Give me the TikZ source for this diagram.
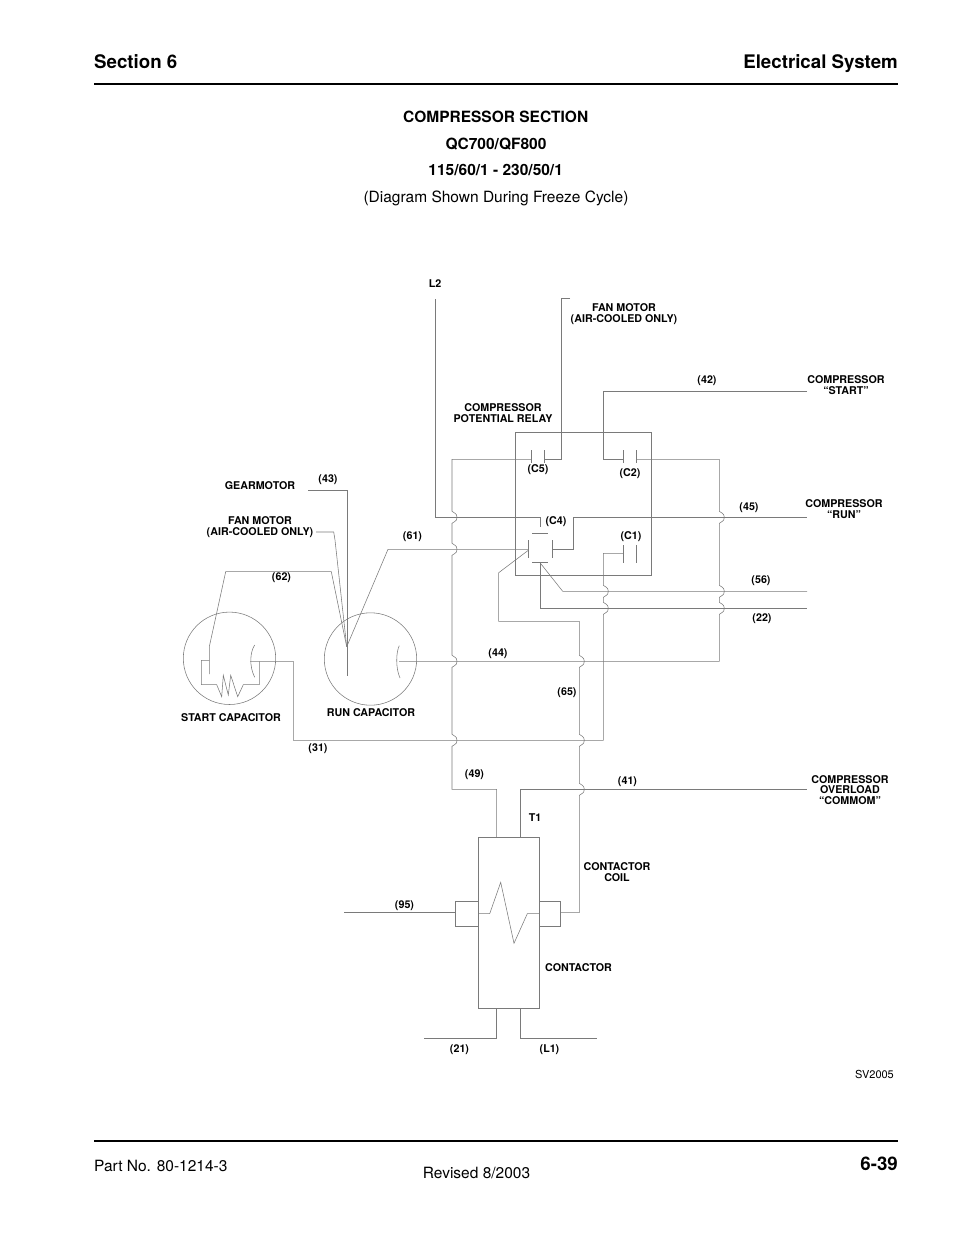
\documentclass[tikz,border=0pt]{standalone}
\usepackage{fontspec}
\setmainfont{TeX Gyre Heros}
\usetikzlibrary{calc}
\tikzstyle{wire}=[draw=black!52, line width=0.55pt]
\tikzstyle{part}=[draw=black!52, line width=0.55pt, inner sep=0pt, outer sep=0pt]
\tikzstyle{lbl}=[font=\fontsize{10.7}{10.8}\selectfont\bfseries, align=center, inner sep=0pt]
\tikzstyle{head}=[font=\fontsize{18.7}{20}\selectfont\bfseries, inner sep=0pt]
\tikzstyle{body}=[font=\fontsize{15.5}{17}\selectfont, inner sep=0pt]
\tikzstyle{rule}=[line width=2pt, black]
\newcommand{\wirehop}[2]{-- (#1,#2-6) .. controls (#1+1,#2-4) and (#1+5,#2-5) .. (#1+5,#2) .. controls (#1+5,#2+5) and (#1+1,#2+4) .. (#1,#2+6)}
\begin{document}
\begin{tikzpicture}[x=1pt,y=-1pt]
  \useasboundingbox (0,0) rectangle (954,1235);
  \node [head, anchor=base west] (sec) at (94,68) {Section 6};
  \node [head, anchor=base east] (sys) at (898,68) {Electrical System};
  \coordinate (ra) at (94,84);
  \coordinate (rb) at (898,84);
  \draw [rule] (ra) -- (rb);
  \node [body] (t1) at (495.7,117) {\bfseries COMPRESSOR SECTION};
  \node [body] (t2) at (496,144) {\bfseries QC700/QF800};
  \node [body] (t3) at (495.7,170) {\bfseries 115/60/1 - 230/50/1};
  \node [body] (t4) at (496,198.5) {(Diagram Shown During Freeze Cycle)};

  \node [part, draw, minimum width=136pt, minimum height=142.3pt] (rly) at (583.7,503.9) {};
  \node [part, circle, minimum size=92.4pt] (sc) at (229.5,658.3) {};
  \node [part, circle, minimum size=92.4pt] (rc) at (370.5,659) {};
  \node [part, minimum width=61.3pt, minimum height=171pt] (ct) at (508.65,922.8) {};
  \node [part, minimum width=22.7pt, minimum height=25pt] (cl) at (466.65,913.8) {};
  \node [part, minimum width=21pt, minimum height=25pt] (cr) at (549.8,913.8) {};

  \coordinate (l2) at (435.3,299);
  \coordinate (l2b) at (435.3,517.3);
  \coordinate (l2c) at (540,517.3);
  \coordinate (l2d) at (540,527.3);
  \draw [wire] (l2) -- (l2b) -- (l2c) -- (l2d);

  \coordinate (c5l) at (531.3,459.3);
  \coordinate (c5r) at (544.3,459.3);
  \draw [wire] (531.3,450) -- (531.3,462.7);
  \draw [wire] (544.3,450) -- (544.3,462.7);
  \draw [wire] (570,298.3) -- (561.3,298.3) -- (561.3,459.3) -- (c5r);
  \draw [wire] (c5l) -- (452,459.3) \wirehop{452}{517.3} \wirehop{452}{549.3} \wirehop{452}{661.3} \wirehop{452}{740.3} -- (452,789.3) -- (496.7,789.3) -- (ct.north -| 496.7,0);

  \coordinate (c2l) at (623.3,459.3);
  \coordinate (c2r) at (636.3,459.3);
  \draw [wire] (623.3,450) -- (623.3,462.7);
  \draw [wire] (636.3,450) -- (636.3,462.7);
  \draw [wire] (807,391) -- (603.3,391) -- (603.3,459.3) -- (c2l);
  \draw [wire] (c2r) -- (719.3,459.3) \wirehop{719.3}{517.3} \wirehop{719.3}{591.3} \wirehop{719.3}{608.3} -- (719.3,661.3) -- (399,661.3);

  \coordinate (c1l) at (623.3,553.3);
  \draw [wire] (623.3,545) -- (623.3,562.7);
  \draw [wire] (636.3,545) -- (636.3,562.7);
  \draw [wire] (c1l) -- (603.3,553.3) \wirehop{603.3}{591.3} \wirehop{603.3}{608.3} -- (603.3,740.3) -- (293.3,740.3) -- (293.3,661.3) -- (250,661.3);

  \draw [wire] (532.3,533.7) -- (548.3,533.7);
  \draw [wire] (532.3,562.7) -- (548.3,562.7);
  \draw [wire] (528.7,540) -- (528.7,558.3);
  \draw [wire] (552.3,540) -- (552.3,558.3);
  \coordinate (coill) at (528.7,549.3);
  \coordinate (coilr) at (552.3,549.3);
  \coordinate (coilb) at (540,562.7);
  \draw [wire] (coilr) -- (573.3,549.3) -- (573.3,517.3) -- (807,517.3);
  \draw [wire] (346.7,646.7) -- (388,549.3) -- (coill);
  \draw [wire] (528.7,550) -- (498.7,572.7) -- (498.7,621.3) -- (579.3,621.3) \wirehop{579.3}{661.3} \wirehop{579.3}{740.3} \wirehop{579.3}{789.3} -- (579.3,912.7) -- (cr.east |- 0,912.7);
  \draw [wire] (coilb) -- (562.7,591.3) -- (807,591.3);
  \draw [wire] (coilb) -- (540,608.3) -- (807,608.3);

  \draw [wire] (308,490.3) -- (347.3,490.3) -- (347.3,676);
  \draw [wire] (316,532) -- (333.7,532) -- (335,540) -- (346.7,646.7);
  \draw [wire] (346.7,646.7) -- (331.3,571.7) -- (225.7,571.7) -- (209.3,646.7) -- (209.3,674);
  \draw [wire] (209.3,660.3) -- (201.3,660.3) -- (201.3,684.7) -- (216.7,684.7) -- (221.7,696.7) -- (223.3,675.3) -- (228.3,695) -- (230.7,675.3) -- (237.7,696.7) -- (243.3,684.7) -- (259.3,684.7) -- (259.3,661.3);
  \draw [wire] (254.7,645) .. controls (250,652) and (249,666) .. (254.7,677.3);
  \draw [wire] (399.3,645.7) .. controls (396,652) and (395.5,668) .. (400,678);

  \coordinate (tl) at (496.7,1038.3);
  \coordinate (tr) at (520.3,1038.3);
  \draw [wire] (520.3,837.3) -- (520.3,789.3) -- (807,789.3);
  \draw [wire] (496.7,1008.3) -- (tl) -- (424,1038.3);
  \draw [wire] (520.3,1008.3) -- (tr) -- (596.7,1038.3);
  \draw [wire] (344,912.7) -- (cl.west |- 0,912.7);
  \draw [wire] (ct.west |- 0,913.7) -- (489.7,913.7) -- (500.7,882.3) -- (514,943.3) -- (527.3,913.7) -- (ct.east |- 0,913.7);

  \node [lbl] (a1) at (435,284) {L2};
  \node [lbl] (a2) at (624,314) {FAN MOTOR\\(AIR-COOLED ONLY)};
  \node [lbl] (a3) at (707,381) {(42)};
  \node [lbl] (a4) at (846,385) {COMPRESSOR\\“START”};
  \node [lbl] (a5) at (503,413) {COMPRESSOR\\POTENTIAL RELAY};
  \node [lbl] (a6) at (538,470) {(C5)};
  \node [lbl] (a7) at (630,474) {(C2)};
  \node [lbl] (a8) at (749,508) {(45)};
  \node [lbl] (a9) at (844,509) {COMPRESSOR\\“RUN”};
  \node [lbl] (a10) at (556,522) {(C4)};
  \node [lbl] (a11) at (631,537) {(C1)};
  \node [lbl] (a12) at (260,486) {GEARMOTOR};
  \node [lbl] (a13) at (328,480) {(43)};
  \node [lbl] (a14) at (260,527) {FAN MOTOR\\(AIR-COOLED ONLY)};
  \node [lbl] (a15) at (412.5,537) {(61)};
  \node [lbl] (a16) at (281.5,578) {(62)};
  \node [lbl] (a17) at (761,581) {(56)};
  \node [lbl] (a18) at (762,619) {(22)};
  \node [lbl] (a19) at (498,654) {(44)};
  \node [lbl] (a20) at (567,693) {(65)};
  \node [lbl] (a21) at (231,718) {START CAPACITOR};
  \node [lbl] (a22) at (371,713) {RUN CAPACITOR};
  \node [lbl] (a23) at (318,749) {(31)};
  \node [lbl] (a24) at (474.5,775) {(49)};
  \node [lbl] (a25) at (627.5,782) {(41)};
  \node [lbl] (a26) at (850,790) {COMPRESSOR\\OVERLOAD\\“COMMOM”};
  \node [lbl] (a27) at (535,818) {T1};
  \node [lbl] (a28) at (617,872) {CONTACTOR\\COIL};
  \node [lbl] (a29) at (404.5,906) {(95)};
  \node [lbl] (a30) at (578.5,968) {CONTACTOR};
  \node [lbl] (a31) at (459.5,1050) {(21)};
  \node [lbl] (a32) at (549.5,1050) {(L1)};
  \node [font=\fontsize{11}{12}\selectfont, inner sep=0pt] (sv) at (874.5,1074) {SV2005};

  \coordinate (rc1) at (94,1141);
  \coordinate (rc2) at (898,1141);
  \draw [rule] (rc1) -- (rc2);
  \node [body, anchor=west] (pn) at (94,1166) {Part No. 80-1214-3};
  \node [body] (rev) at (476.5,1173) {Revised 8/2003};
  \node [head, anchor=base east] (pg) at (898,1170) {6-39};
\end{tikzpicture}
\end{document}
